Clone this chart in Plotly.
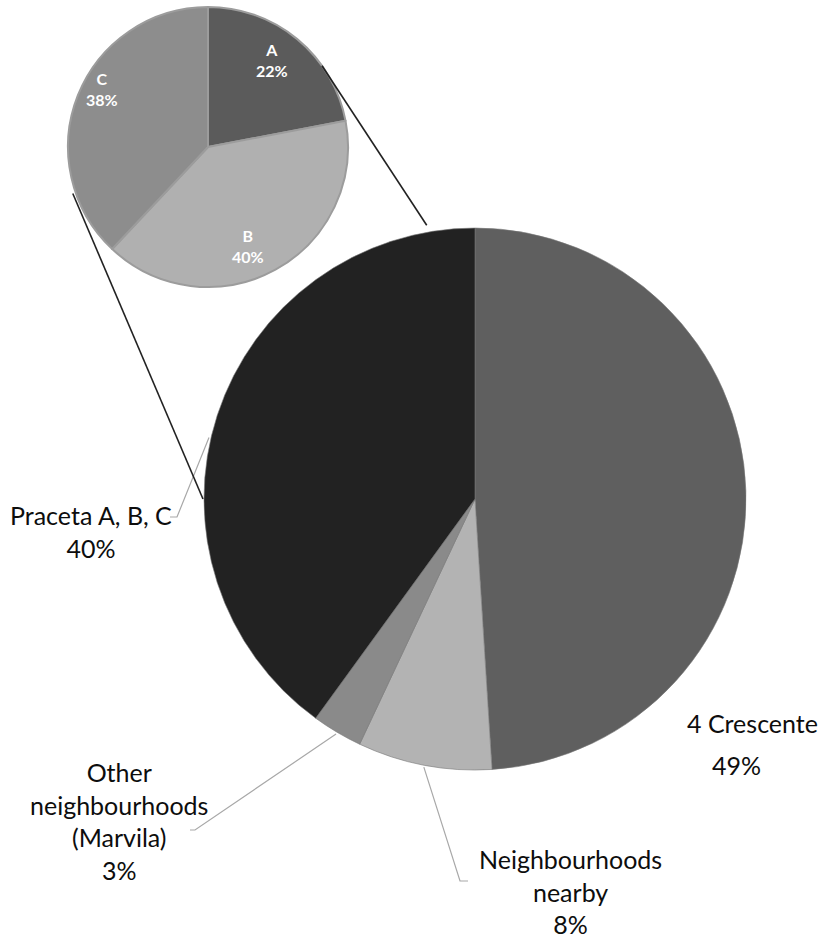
import math
import plotly.graph_objects as go

# ---------------- data ----------------
main_labels = ["4 Crescente", "Neighbourhoods<br>nearby", "Other<br>neighbourhoods<br>(Marvila)", "Praceta A, B, C"]
main_values = [49, 8, 3, 40]
main_colors = ["#5f5f5f", "#b3b3b3", "#8a8a8a", "#222222"]

sub_labels = ["A", "B", "C"]
sub_values = [22, 40, 38]
sub_colors = ["#5b5b5b", "#b0b0b0", "#8d8d8d"]

W, H = 822, 939
FONT = "Lato"

# geometry (pixels)
BIG_C, BIG_R = (475, 499), 271
SM_C, SM_R = (208, 147), 140


def P(x, y):
    return x / W, 1 - y / H


def dom(c, r):
    x0, y1 = P(c[0] - r, c[1] - r)
    x1, y0 = P(c[0] + r, c[1] + r)
    return dict(x=[x0, x1], y=[y0, y1])


def polar(c, r, ang):
    a = math.radians(ang)
    return c[0] + r * math.sin(a), c[1] - r * math.cos(a)


def mid_angles(vals):
    tot = sum(vals)
    out, cum = [], 0
    for v in vals:
        out.append((cum + v / 2) / tot * 360)
        cum += v
    return out


fig = go.Figure()
fig.add_trace(go.Pie(
    labels=main_labels, values=main_values, sort=False, direction="clockwise",
    rotation=0, marker=dict(colors=main_colors, line=dict(width=0.6, color="#777777")),
    textinfo="none", hoverinfo="label+percent", domain=dom(BIG_C, BIG_R), showlegend=False,
))
fig.add_trace(go.Pie(
    labels=sub_labels, values=sub_values, sort=False, direction="clockwise",
    rotation=0, marker=dict(colors=sub_colors, line=dict(width=2, color="#9c9c9c")),
    textinfo="none", hoverinfo="label+percent", domain=dom(SM_C, SM_R), showlegend=False,
))

annotations = []
shapes = []

# small pie inside labels
for lab, v, ang, da, rf in zip(sub_labels, sub_values, mid_angles(sub_values),
                               [-3, 7, 7], [0.77, 0.76, 0.86]):
    x, y = polar(SM_C, SM_R * rf, ang + da)
    px, py = P(x, y)
    annotations.append(dict(
        x=px, y=py, xref="paper", yref="paper", showarrow=False,
        text=f"<b>{lab}<br>{v}%</b>", font=dict(family=FONT, size=16, color="white"),
        xanchor="center", yanchor="middle"))

# outer labels of the main pie
OUT_SIZE = 25
label_pos = {
    1: (570, 891),
    2: (119, 821),
    3: (91, 531),
}
for i, (lab, v) in enumerate(zip(main_labels, main_values)):
    if i == 0:
        for txt, (x, y) in [(lab, (752, 723)), (f"{v}%", (736, 765))]:
            px, py = P(x, y)
            annotations.append(dict(
                x=px, y=py, xref="paper", yref="paper", showarrow=False, text=txt,
                font=dict(family=FONT, size=OUT_SIZE, color="#0d0d0d"),
                xanchor="center", yanchor="middle"))
        continue
    x, y = label_pos[i]
    px, py = P(x, y)
    annotations.append(dict(
        x=px, y=py, xref="paper", yref="paper", showarrow=False, text=f"{lab}<br>{v}%",
        font=dict(family=FONT, size=OUT_SIZE, color="#0d0d0d"),
        xanchor="center", yanchor="middle"))

# leader lines (from the pie edge near the slice middle to the label)
mids = mid_angles(main_values)
leader_da = {1: 0, 2: 0, 3: -5}
leader_ends = {
    1: [(460, 881), (468, 881)],
    2: [(195, 830), (190, 830)],
    3: [(177, 517), (170, 517)],
}
for i, pts in leader_ends.items():
    start = polar(BIG_C, BIG_R + 2, mids[i] + leader_da[i])
    allpts = [start] + pts
    path = "M " + " L ".join(f"{P(x, y)[0]},{P(x, y)[1]}" for x, y in allpts)
    shapes.append(dict(type="path", path=path, xref="paper", yref="paper",
                       line=dict(color="#a8a8a8", width=1.2)))

# connector lines between small pie and main pie
connectors = [
    (polar(SM_C, SM_R, 54.5), polar(BIG_C, 278, 350)),
    (polar(SM_C, SM_R + 3, 251), polar(BIG_C, 272, 270)),
]
for (x0, y0), (x1, y1) in connectors:
    a, b = P(x0, y0)
    c, d = P(x1, y1)
    shapes.append(dict(type="line", x0=a, y0=b, x1=c, y1=d, xref="paper", yref="paper",
                       line=dict(color="#222222", width=1.6)))

fig.update_layout(
    width=W, height=H, margin=dict(l=0, r=0, t=0, b=0),
    paper_bgcolor="white", plot_bgcolor="white",
    annotations=annotations, shapes=shapes, showlegend=False,
)

fig.write_html("out.html")
